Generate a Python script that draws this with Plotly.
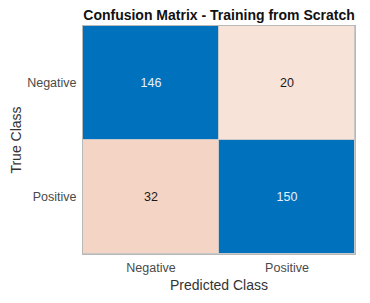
import plotly.graph_objects as go

classes = ["Negative", "Positive"]
counts = [[146, 20],
          [32, 150]]

diag = [[counts[i][j] if i == j else None for j in range(2)] for i in range(2)]
off = [[counts[i][j] if i != j else None for j in range(2)] for i in range(2)]

fig = go.Figure()
fig.add_trace(go.Heatmap(
    x=classes, y=classes, z=diag,
    colorscale=[[0, "#0072BD"], [1, "#0072BD"]],
    showscale=False, xgap=1, ygap=1,
    texttemplate="%{z}", textfont=dict(color="#e8f0f8", size=12.5, family="Liberation Sans, Arial"),
    hoverongaps=False,
))
fig.add_trace(go.Heatmap(
    x=classes, y=classes, z=off,
    colorscale=[[0, "#F8E3D9"], [1, "#F4D4C4"]], zmin=20, zmax=32,
    showscale=False, xgap=1, ygap=1,
    texttemplate="%{z}", textfont=dict(color="#1a1a1a", size=12.5, family="Liberation Sans, Arial"),
    hoverongaps=False,
))

# page body has an 8px default margin, so the figure is sized/offset to compensate
W, H = 354, 287
fig.update_layout(
    width=W, height=H,
    margin=dict(l=75, r=7, t=18, b=41),
    paper_bgcolor="white", plot_bgcolor="#c8c8c8",
    font=dict(family="Liberation Sans, Arial", color="#404040"),
    title=dict(text="<b>Confusion Matrix - Training from Scratch</b>",
               x=(75 + 347) / 2 / W, xanchor="center", y=1 - 7 / H, yanchor="middle",
               font=dict(size=14, color="#111111")),
)
fig.update_xaxes(
    title=dict(text="Predicted Class", font=dict(size=14, color="#333333"), standoff=6),
    tickfont=dict(size=12.5, color="#4a4a4a"), showgrid=False, zeroline=False,
    showline=True, linecolor="#b8b8b8", mirror=True, ticks="", ticklen=0,
    ticklabelstandoff=2, automargin=False,
)
fig.update_yaxes(
    title=dict(text="True Class", font=dict(size=14, color="#333333"), standoff=2),
    tickfont=dict(size=12.5, color="#4a4a4a"), showgrid=False, zeroline=False,
    autorange="reversed",
    showline=True, linecolor="#b8b8b8", mirror=True, ticks="", ticklen=0,
    ticklabelstandoff=3, automargin=False,
)

fig.write_html("out.html")
